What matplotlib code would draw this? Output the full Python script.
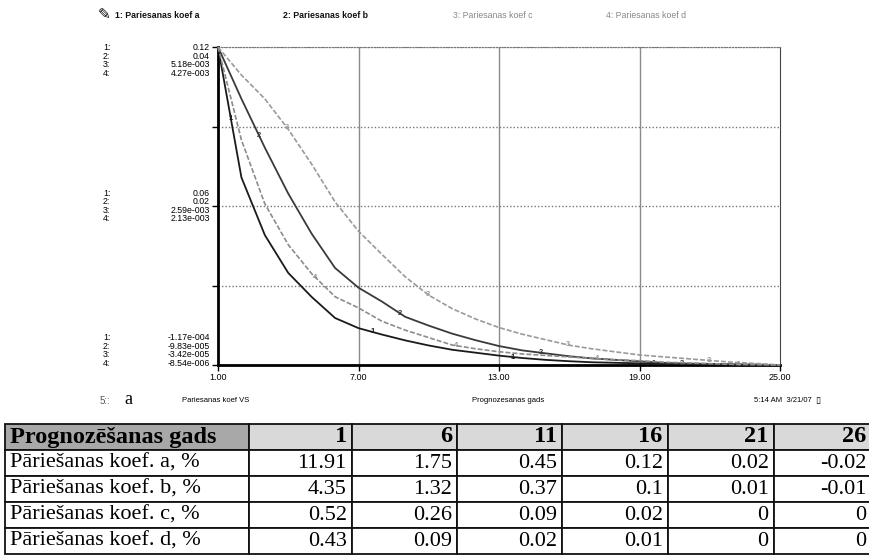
import matplotlib
matplotlib.use("Agg")
import matplotlib.pyplot as plt
import matplotlib.transforms as mtransforms
import numpy as np

# ---------------- data ----------------
years = list(range(1, 26))
koef_a = [0.1191, 0.0702, 0.0486, 0.0344, 0.0254, 0.0175, 0.0137, 0.0113, 0.0091, 0.0072,
          0.0056, 0.0045, 0.0034, 0.0025, 0.0018, 0.0013, 0.0009, 0.0007, 0.0005, 0.0003,
          0.0002, 0.0001, 0.00002, -0.00006, -0.000117]
koef_b = [0.0435, 0.0364, 0.0297, 0.0234, 0.0179, 0.0132, 0.0105, 0.0086, 0.0065, 0.0053,
          0.0042, 0.0033, 0.0025, 0.0019, 0.0015, 0.0011, 0.0008, 0.0006, 0.0004, 0.0002,
          0.0001, 0.00005, 0.0, -0.00005, -0.0000983]
koef_c = [0.00518, 0.00472, 0.00433, 0.00383, 0.00326, 0.00264, 0.00216, 0.00178, 0.00141, 0.00111,
          0.00089, 0.00072, 0.00058, 0.00047, 0.00038, 0.00029, 0.00023, 0.00018, 0.00013, 0.0001,
          0.00007, 0.00004, 0.00001, -0.00001, -0.0000342]
koef_d = [0.00427, 0.00302, 0.00216, 0.00161, 0.00122, 0.00091, 0.00076, 0.00058, 0.00046, 0.00036,
          0.00026, 0.00021, 0.00017, 0.00014, 0.00012, 0.0001, 0.00008, 0.00006, 0.00005, 0.00003,
          0.00002, 0.00001, 0.0, -0.000004, -0.00000854]

series_names = ["1: Pariesanas koef a", "2: Pariesanas koef b",
                "3: Pariesanas koef c", "4: Pariesanas koef d"]
top_labels = ["0.12", "0.04", "5.18e-003", "4.27e-003"]
mid_labels = ["0.06", "0.02", "2.59e-003", "2.13e-003"]
bot_labels = ["-1.17e-004", "-9.83e-005", "-3.42e-005", "-8.54e-006"]
x_ticks = [1, 7, 13, 19, 25]
x_tick_labels = ["1.00", "7.00", "13.00", "19.00", "25.00"]
curve_label_t = [[1.55, 7.6, 13.6, 19.6],
                 [2.75, 8.75, 14.8, 20.8],
                 [3.95, 9.95, 15.95, 21.95],
                 [5.15, 11.15, 17.2, 23.2]]

footer_left = "Pariesanas koef VS"
footer_mid = "Prognozesanas gads"
footer_right = "5:14 AM  3/21/07"

table_header = ["Prognozēšanas gads", "1", "6", "11", "16", "21", "26"]
table_rows = [
    ["Pāriešanas koef. a, %", "11.91", "1.75", "0.45", "0.12", "0.02", "-0.02"],
    ["Pāriešanas koef. b, %", "4.35", "1.32", "0.37", "0.1", "0.01", "-0.01"],
    ["Pāriešanas koef. c, %", "0.52", "0.26", "0.09", "0.02", "0", "0"],
    ["Pāriešanas koef. d, %", "0.43", "0.09", "0.02", "0.01", "0", "0"],
]

# ---------------- styles ----------------
colors = ["#1a1a1a", "#3a3a3a", "#9a9a9a", "#8c8c8c"]
styles = ["-", "-", (0, (3, 1.2)), (0, (3, 1.2))]
SANS = ["Liberation Sans", "DejaVu Sans"]
SERIF = "Liberation Serif"

W, H = 869, 556
fig = plt.figure(figsize=(W / 100, H / 100), dpi=100)


def fx(px):
    return px / W


def fy(py):
    return 1 - py / H


ax1 = fig.add_axes([fx(218), fy(365), fx(780) - fx(218), fy(47) - fy(365)])
data = [koef_a, koef_b, koef_c, koef_d]
axes = [ax1] + [ax1.twinx() for _ in range(3)]

for i, (ax, s) in enumerate(zip(axes, data)):
    ax.set_ylim(min(s), max(s))
    ax.set_xlim(years[0], years[-1])
    ax.plot(years, s, color=colors[i], linestyle=styles[i], lw=1.3 if i < 2 else 1.2,
            zorder=5, clip_on=False)
    for t in curve_label_t[i]:
        v = np.interp(t, years, s)
        ax.text(t, v, str(i + 1), color=colors[i], fontsize=5.5, family=SANS,
                ha="center", va="center", zorder=6, fontweight="bold")
    if i > 0:
        ax.axis("off")

lo, hi = min(koef_a), max(koef_a)
ax1.set_yticks([lo + (hi - lo) * f for f in (0, 0.25, 0.5, 0.75, 1)])
ax1.set_yticklabels([])
ax1.grid(axis="y", color="#777777", linestyle=(0, (1, 1.5)), lw=1)
ax1.set_xticks(x_ticks)
ax1.set_xticklabels(x_tick_labels, fontsize=6.5, family=SANS)
for xv in x_ticks[1:-1]:
    ax1.axvline(xv, color="#8a8a8a", lw=1, zorder=1)
ax1.tick_params(axis="both", direction="out", length=4, width=1, pad=2)
ax1.spines["left"].set_linewidth(2)
ax1.spines["bottom"].set_linewidth(2)
ax1.spines["top"].set_linestyle((0, (1, 1.5)))
ax1.spines["top"].set_color("#777777")
ax1.spines["right"].set_linestyle((0, (1, 1)))
ax1.spines["right"].set_color("#444444")

# stacked scale labels
blocks = [(1.0, top_labels, "top", 4), (0.5, mid_labels, "center", 0), (0.0, bot_labels, "bottom", -3)]
for frac, labs, va, dy in blocks:
    tr = mtransforms.offset_copy(ax1.transAxes, fig=fig, x=-8, y=dy, units="dots")
    ax1.text(0, frac, "\n".join(labs), transform=tr, ha="right", va=va,
             fontsize=6.3, family=SANS, linespacing=0.95, multialignment="right")
    tr2 = mtransforms.offset_copy(ax1.transAxes, fig=fig, x=-115, y=dy, units="dots")
    ax1.text(0, frac, "\n".join(f"{k + 1}:" for k in range(4)), transform=tr2, ha="left",
             va=va, fontsize=6.3, family=SANS, linespacing=0.95)

# legend row
fig.text(fx(98), fy(15), "\u270e", fontsize=11, ha="left", va="center", family="DejaVu Sans")
leg_x = [115, 283, 453, 606]
for i, name in enumerate(series_names):
    fig.text(fx(leg_x[i]), fy(15), name, fontsize=6.3, family=SANS, ha="left", va="center",
             color="#111111" if i < 2 else "#888888", fontweight="bold" if i < 2 else "normal")

# footer row
fig.text(fx(100), fy(401), "5::", fontsize=7, family=SANS, ha="left", va="center", color="#555555")
fig.text(fx(124), fy(400), "a", fontsize=13, family=SERIF, ha="left", va="center")
fig.text(fx(182), fy(401), footer_left, fontsize=5.5, family=SANS, ha="left", va="center")
fig.text(fx(472), fy(401), footer_mid, fontsize=5.5, family=SANS, ha="left", va="center")
fig.text(fx(812), fy(401), footer_right, fontsize=5.5, family=SANS, ha="right", va="center")
fig.text(fx(815), fy(401), "\u25af", fontsize=6.5, family=["DejaVu Sans"], ha="left", va="center")

# table
tab_ax = fig.add_axes([fx(5), fy(554), fx(871) - fx(5), fy(424) - fy(554)])
tab_ax.axis("off")
col_px = [244, 103, 105, 105, 106, 106, 97]
col_w = [c / sum(col_px) for c in col_px]
tbl = tab_ax.table(cellText=[table_header] + table_rows, colWidths=col_w, bbox=[0, 0, 1, 1],
                   cellLoc="right")
tbl.auto_set_font_size(False)
for (r, c), cell in tbl.get_celld().items():
    cell.set_linewidth(1.3)
    cell.set_edgecolor("#111111")
    txt = cell.get_text()
    txt.set_fontfamily(SERIF)
    txt.set_fontsize(17.5 if r == 0 else 16)
    if c == 0:
        cell._loc = "left"
        txt.set_ha("left")
        cell.PAD = 0.02
    else:
        cell.PAD = 0.05
    if r == 0:
        txt.set_fontweight("bold")
        cell.set_facecolor("#a8a8a8" if c == 0 else "#d9d9d9")
    else:
        cell.set_facecolor("white")

fig.savefig("out.png", dpi=100)
